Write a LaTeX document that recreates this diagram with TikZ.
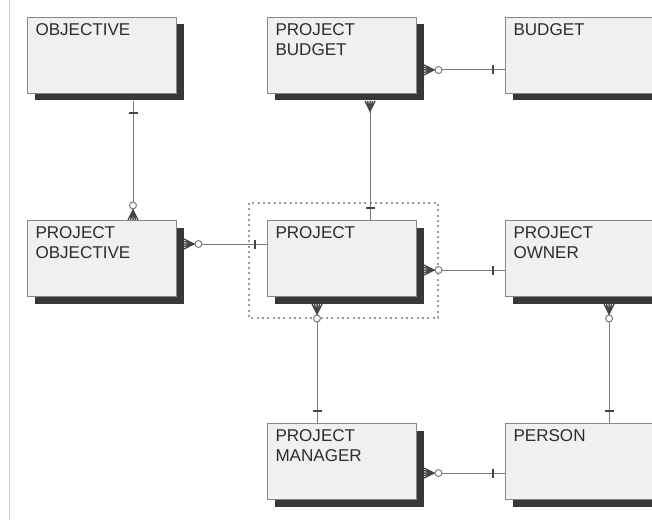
\documentclass[tikz,border=0pt]{standalone}
\usepackage{fontspec}
\setmainfont{Liberation Sans}
\usepackage{tikz}
\usetikzlibrary{calc}
\usetikzlibrary{shadows}
\usetikzlibrary{decorations.markings}
\definecolor{boxfill}{RGB}{240,240,240}
\definecolor{boxline}{RGB}{136,136,136}
\definecolor{shadowc}{RGB}{56,56,56}
\definecolor{textc}{RGB}{45,45,45}
\definecolor{linkc}{RGB}{122,122,122}
\definecolor{footc}{RGB}{70,70,70}
\definecolor{selc}{RGB}{156,156,156}
\definecolor{framec}{RGB}{204,204,204}
\tikzset{
    entity/.style={draw=boxline, fill=boxfill, anchor=north west, inner sep=0pt,
        minimum width=111.75pt, minimum height=57pt,
        drop shadow={shadow xshift=5.25pt, shadow yshift=-5.25pt, fill=shadowc, opacity=1}},
    etext/.style={anchor=north west, inner sep=0pt, align=left, text=textc,
        xshift=6pt, yshift=-4.5pt, font=\fontsize{12.8}{15}\selectfont},
    link/.style={draw=linkc, line width=0.75pt},
    % crow's foot with a ring, at the start of the path
    manyopt/.style={postaction={decorate, decoration={markings,
        mark=at position 0 with {
            \draw[footc, line width=1pt] (0,-5) -- (10,0) -- (0,5) (0,-2.5) -- (10,0) -- (0,2.5) (0,0) -- (10,0);
            \draw[linkc, line width=0.75pt, fill=white] (14.5,0) circle[radius=2.6pt];}}}},
    % crow's foot only
    many/.style={postaction={decorate, decoration={markings,
        mark=at position 0 with {
            \draw[footc, line width=1pt] (0,-5) -- (10,0) -- (0,5) (0,-2.5) -- (10,0) -- (0,2.5) (0,0) -- (10,0);}}}},
    % single bar at the end of the path
    one/.style={postaction={decorate, decoration={markings,
        mark=at position 1 with {\draw[footc, line width=0.8pt] (-12,-4.5) -- (-12,4.5);}}}},
    selbox/.style={draw=selc, line width=1.4pt, dash pattern=on 1.6pt off 2.4pt},
}

\begin{document}
\begin{tikzpicture}[x=0.75pt, y=-0.75pt, line width=0.75pt]
\path[use as bounding box, fill=white] (0,0) rectangle (652,520);
\clip (0,0) rectangle (652,520);
\draw[framec] (9,0) -- (9,520);

% entities
\node[entity, label={[etext]north west:OBJECTIVE}] (objective) at (27,17) {};
\node[entity, label={[etext]north west:PROJECT\\BUDGET}] (pbudget) at (267,17) {};
\node[entity, label={[etext]north west:BUDGET}] (budget) at (505,17) {};
\node[entity, label={[etext]north west:PROJECT\\OBJECTIVE}] (pobjective) at (27,220) {};
\node[entity, label={[etext]north west:PROJECT}] (project) at (267,220) {};
\node[entity, label={[etext]north west:PROJECT\\OWNER}] (powner) at (505,220) {};
\node[entity, label={[etext]north west:PROJECT\\MANAGER}] (pmanager) at (267,423) {};
\node[entity, label={[etext]north west:PERSON}] (person) at (505,423) {};

% selection around PROJECT
\draw[selbox] ($(project.north west)+(-18,-17)$) rectangle ($(project.south east)+(21,21)$);

% relationships
\draw[link, manyopt, one] ($(pobjective.north west)+(106,0)$) -- ($(objective.south west)+(106,7)$);
\draw[link, manyopt, one] ($(pobjective.north east)+(7,24)$) -- ($(project.north west)+(0,24)$);
\draw[link, many, one] ($(pbudget.south west)+(103,7)$) -- ($(project.north west)+(103,0)$);
\draw[link, manyopt, one] ($(pbudget.north east)+(7,53)$) -- ($(budget.north west)+(0,53)$);
\draw[link, manyopt, one] ($(project.north east)+(7,50)$) -- ($(powner.north west)+(0,50)$);
\draw[link, manyopt, one] ($(project.south west)+(50,7)$) -- ($(pmanager.north west)+(50,0)$);
\draw[link, manyopt, one] ($(powner.south west)+(104,7)$) -- ($(person.north west)+(104,0)$);
\draw[link, manyopt, one] ($(pmanager.north east)+(7,50)$) -- ($(person.north west)+(0,50)$);
\end{tikzpicture}
\end{document}
